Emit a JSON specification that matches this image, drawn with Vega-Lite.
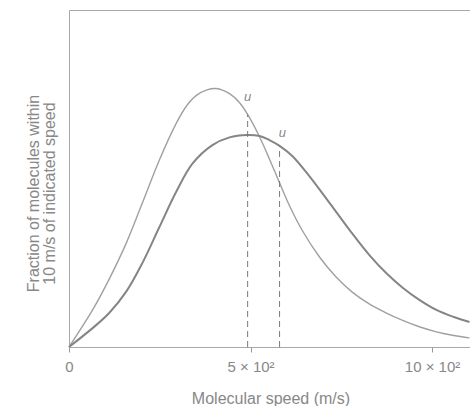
{
  "$schema": "https://vega.github.io/schema/vega-lite/v6.json",
  "width": 403,
  "height": 337,
  "autosize": "none",
  "padding": {"left": 69, "top": 10, "right": 0, "bottom": 59},
  "config": {
    "view": {"stroke": "#a8a8a8", "strokeWidth": 1},
    "font": "Liberation Sans"
  },
  "datasets": {
    "curves": [
      {"gas": "light", "speed": 0, "fraction": 0},
      {"gas": "light", "speed": 65, "fraction": 0.11},
      {"gas": "light", "speed": 110, "fraction": 0.2},
      {"gas": "light", "speed": 158, "fraction": 0.309},
      {"gas": "light", "speed": 202, "fraction": 0.427},
      {"gas": "light", "speed": 249, "fraction": 0.555},
      {"gas": "light", "speed": 296, "fraction": 0.665},
      {"gas": "light", "speed": 324, "fraction": 0.716},
      {"gas": "light", "speed": 350, "fraction": 0.746},
      {"gas": "light", "speed": 380, "fraction": 0.763},
      {"gas": "light", "speed": 405, "fraction": 0.767},
      {"gas": "light", "speed": 442, "fraction": 0.752},
      {"gas": "light", "speed": 470, "fraction": 0.725},
      {"gas": "light", "speed": 492, "fraction": 0.69},
      {"gas": "light", "speed": 525, "fraction": 0.623},
      {"gas": "light", "speed": 552, "fraction": 0.558},
      {"gas": "light", "speed": 580, "fraction": 0.487},
      {"gas": "light", "speed": 607, "fraction": 0.42},
      {"gas": "light", "speed": 643, "fraction": 0.345},
      {"gas": "light", "speed": 690, "fraction": 0.267},
      {"gas": "light", "speed": 737, "fraction": 0.206},
      {"gas": "light", "speed": 781, "fraction": 0.162},
      {"gas": "light", "speed": 828, "fraction": 0.127},
      {"gas": "light", "speed": 870, "fraction": 0.103},
      {"gas": "light", "speed": 919, "fraction": 0.079},
      {"gas": "light", "speed": 965, "fraction": 0.06},
      {"gas": "light", "speed": 1012, "fraction": 0.045},
      {"gas": "light", "speed": 1060, "fraction": 0.034},
      {"gas": "light", "speed": 1103, "fraction": 0.027},
      {"gas": "heavy", "speed": 0, "fraction": 0},
      {"gas": "heavy", "speed": 65, "fraction": 0.056},
      {"gas": "heavy", "speed": 110, "fraction": 0.1},
      {"gas": "heavy", "speed": 158, "fraction": 0.165},
      {"gas": "heavy", "speed": 202, "fraction": 0.249},
      {"gas": "heavy", "speed": 249, "fraction": 0.356},
      {"gas": "heavy", "speed": 296, "fraction": 0.462},
      {"gas": "heavy", "speed": 340, "fraction": 0.544},
      {"gas": "heavy", "speed": 395, "fraction": 0.599},
      {"gas": "heavy", "speed": 442, "fraction": 0.622},
      {"gas": "heavy", "speed": 490, "fraction": 0.629},
      {"gas": "heavy", "speed": 525, "fraction": 0.626},
      {"gas": "heavy", "speed": 552, "fraction": 0.614},
      {"gas": "heavy", "speed": 580, "fraction": 0.597},
      {"gas": "heavy", "speed": 615, "fraction": 0.567},
      {"gas": "heavy", "speed": 662, "fraction": 0.507},
      {"gas": "heavy", "speed": 718, "fraction": 0.427},
      {"gas": "heavy", "speed": 773, "fraction": 0.347},
      {"gas": "heavy", "speed": 828, "fraction": 0.272},
      {"gas": "heavy", "speed": 875, "fraction": 0.218},
      {"gas": "heavy", "speed": 919, "fraction": 0.176},
      {"gas": "heavy", "speed": 965, "fraction": 0.14},
      {"gas": "heavy", "speed": 1012, "fraction": 0.11},
      {"gas": "heavy", "speed": 1060, "fraction": 0.089},
      {"gas": "heavy", "speed": 1103, "fraction": 0.074}
    ],
    "rms": [
      {"gas": "light", "speed": 492, "bottom": 0, "top": 0.69, "labelSpeed": 492, "labelFraction": 0.742, "label": "u"},
      {"gas": "heavy", "speed": 580, "bottom": 0, "top": 0.597, "labelSpeed": 588, "labelFraction": 0.635, "label": "u"}
    ]
  },
  "layer": [
    {
      "data": {"name": "curves"},
      "transform": [{"filter": "datum.gas == 'light'"}],
      "mark": {"type": "line", "interpolate": "catmull-rom", "color": "#a0a0a0", "strokeWidth": 1.4},
      "encoding": {
        "x": {
          "field": "speed", "type": "quantitative",
          "scale": {"domain": [0, 1110], "nice": false, "zero": true},
          "axis": {
            "values": [0, 500, 1000],
            "labelExpr": "datum.value == 0 ? '0' : datum.value == 500 ? '5 × 10²' : '10 × 10²'",
            "grid": false, "domain": false,
            "tickSize": 5, "tickColor": "#999999",
            "labelPadding": 7, "labelFontSize": 15, "labelColor": "#888888", "labelFlush": false,
            "title": "Molecular speed (m/s)",
            "titleFontSize": 16, "titleFontWeight": "normal", "titleColor": "#888888",
            "titleY": 51, "titleBaseline": "middle"
          }
        },
        "y": {
          "field": "fraction", "type": "quantitative",
          "scale": {"domain": [0, 1], "nice": false},
          "axis": {
            "title": ["Fraction of molecules within", "10 m/s of indicated speed"],
            "labels": false, "ticks": false, "domain": false, "grid": false,
            "titleX": -36, "titleY": 183, "titleAlign": "center", "titleBaseline": "middle",
            "titleAngle": -90, "titleFontSize": 16, "titleFontWeight": "normal",
            "titleColor": "#888888", "titleLineHeight": 16
          }
        }
      }
    },
    {
      "data": {"name": "curves"},
      "transform": [{"filter": "datum.gas == 'heavy'"}],
      "mark": {"type": "line", "interpolate": "catmull-rom", "color": "#858585", "strokeWidth": 2},
      "encoding": {
        "x": {"field": "speed", "type": "quantitative"},
        "y": {"field": "fraction", "type": "quantitative"}
      }
    },
    {
      "data": {"name": "rms"},
      "mark": {"type": "rule", "strokeDash": [6, 4], "color": "#7a7a7a", "strokeWidth": 1},
      "encoding": {
        "x": {"field": "speed", "type": "quantitative"},
        "y": {"field": "bottom", "type": "quantitative"},
        "y2": {"field": "top"}
      }
    },
    {
      "data": {"name": "rms"},
      "mark": {"type": "text", "fontStyle": "italic", "fontSize": 13, "color": "#888888"},
      "encoding": {
        "x": {"field": "labelSpeed", "type": "quantitative"},
        "y": {"field": "labelFraction", "type": "quantitative"},
        "text": {"field": "label"}
      }
    }
  ]
}
